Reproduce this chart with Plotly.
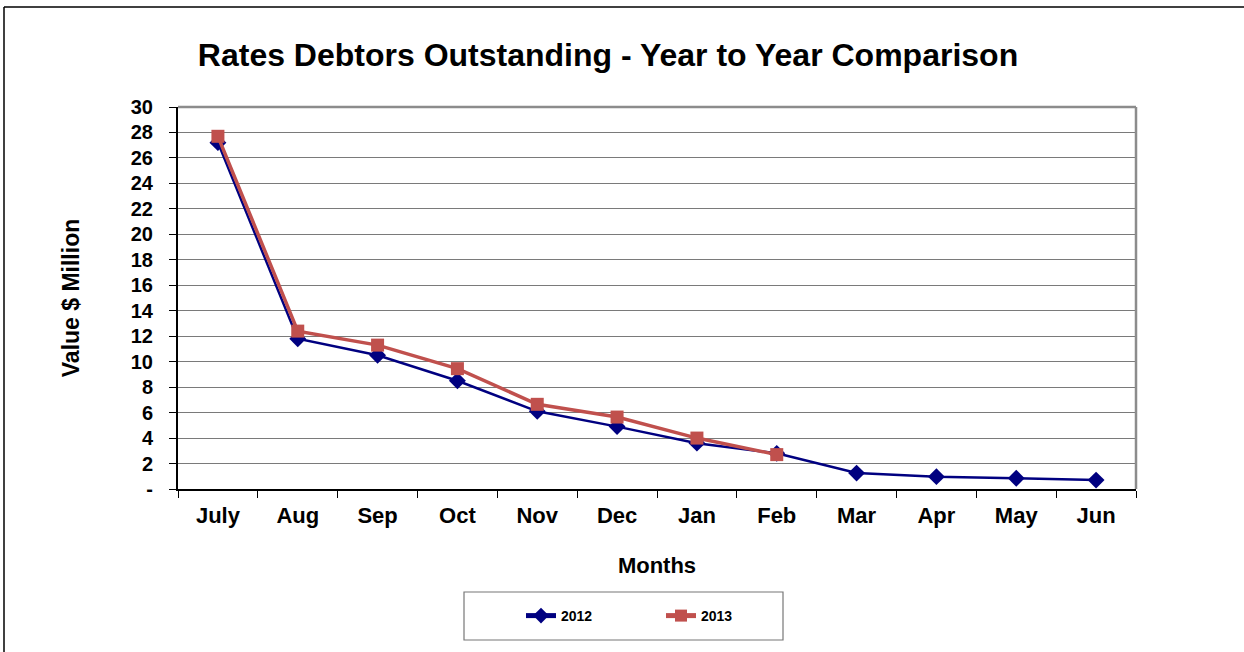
import plotly.graph_objects as go

months = ["July", "Aug", "Sep", "Oct", "Nov", "Dec", "Jan", "Feb", "Mar", "Apr", "May", "Jun"]
values_2012 = [27.2, 11.8, 10.5, 8.5, 6.1, 4.9, 3.6, 2.8, 1.25, 0.97, 0.84, 0.7]
values_2013 = [27.7, 12.4, 11.3, 9.45, 6.65, 5.65, 4.0, 2.7]
months_2013 = months[:len(values_2013)]

ytick_vals = list(range(0, 31, 2))
ytick_text = ["-"] + [str(v) for v in ytick_vals[1:]]

FONT = "Liberation Sans, Arial, sans-serif"

fig = go.Figure()
fig.add_trace(go.Scatter(
    x=months, y=values_2012, name="2012", mode="lines+markers",
    line=dict(color="#000080", width=2.5),
    marker=dict(symbol="diamond", size=13, color="#000080"),
))
fig.add_trace(go.Scatter(
    x=months_2013, y=values_2013, name="2013", mode="lines+markers",
    line=dict(color="#C0504D", width=3.5),
    marker=dict(symbol="square", size=13, color="#C0504D"),
))

W, H = 1244, 652
ml, mr, mt, mb = 178, 108, 107, 163
pw, ph = W - ml - mr, H - mt - mb

def px(x):
    return (x - ml) / pw

def py(y):
    return (H - mb - y) / ph

shapes = [
    # outer frame
    dict(type="line", xref="paper", yref="paper", x0=px(4), x1=px(1250), y0=py(7), y1=py(7),
         line=dict(color="black", width=1.5)),
    dict(type="line", xref="paper", yref="paper", x0=px(4), x1=px(4), y0=py(7), y1=py(660),
         line=dict(color="black", width=1.5)),
    # plot area top/right border
    dict(type="line", xref="paper", yref="paper", x0=0, x1=1, y0=1, y1=1,
         line=dict(color="#8c8c8c", width=2.5)),
    dict(type="line", xref="paper", yref="paper", x0=1, x1=1, y0=0, y1=1,
         line=dict(color="#8c8c8c", width=2.5)),
    # legend box
    dict(type="rect", xref="paper", yref="paper", x0=px(464), x1=px(783), y0=py(640), y1=py(592),
         line=dict(color="#777777", width=1.2), fillcolor="rgba(0,0,0,0)"),
]

fig.update_layout(
    width=W, height=H,
    margin=dict(l=ml, r=mr, t=mt, b=mb),
    paper_bgcolor="white", plot_bgcolor="white",
    font=dict(family=FONT, color="black"),
    title=dict(text="<b>Rates Debtors Outstanding - Year to Year Comparison</b>",
               x=(608) / W, xanchor="center", y=1 - 55 / H, yanchor="middle", yref="container",
               font=dict(size=32, family=FONT, color="black")),
    showlegend=True,
    legend=dict(orientation="h", x=px(521), xanchor="left", y=py(616), yanchor="middle",
                font=dict(size=14, family=FONT, color="black", weight="bold"),
                bgcolor="rgba(0,0,0,0)", borderwidth=0, entrywidth=95, entrywidthmode="pixels",
                itemsizing="constant"),
    shapes=shapes,
)

fig.update_xaxes(
    type="category", categoryorder="array", categoryarray=months,
    range=[-0.5, len(months) - 0.5],
    showgrid=False, showline=True, linecolor="black", linewidth=2,
    ticks="outside", tickson="boundaries", ticklen=7, tickcolor="black", tickwidth=1,
    ticklabelstandoff=6,
    tickfont=dict(size=22, family=FONT, color="black", weight="bold"),
    title=dict(text="<b>Months</b>", font=dict(size=22, family=FONT, color="black"), standoff=30),
    zeroline=False,
)
fig.update_yaxes(
    range=[0, 30], tickmode="array", tickvals=ytick_vals, ticktext=ytick_text,
    showgrid=True, gridcolor="#7a7a7a", gridwidth=1,
    showline=True, linecolor="black", linewidth=2,
    ticks="outside", ticklen=7, tickcolor="black", tickwidth=1,
    ticklabelstandoff=12,
    tickfont=dict(size=20, family=FONT, color="black", weight="bold"),
    title=dict(text="<b>Value $ Million</b>", font=dict(size=23, family=FONT, color="black"), standoff=45),
    zeroline=False,
)

fig.write_html("out.html")
